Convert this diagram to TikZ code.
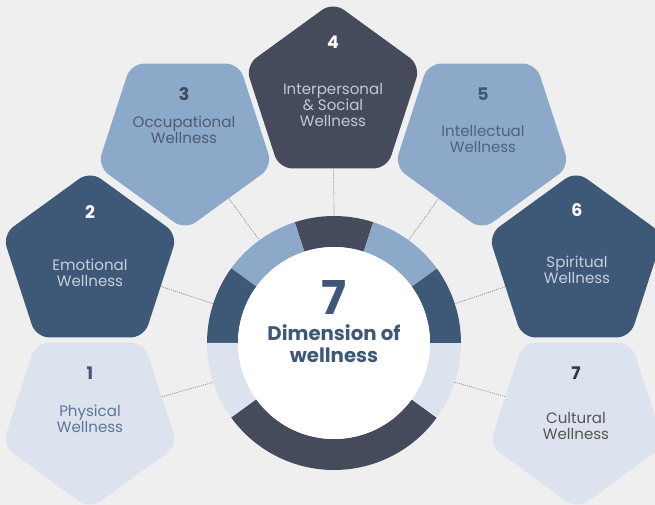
\documentclass[tikz,border=0pt]{standalone}
\usepackage{fontspec}
\setmainfont{Poppins}
\usetikzlibrary{shapes.geometric}

\definecolor{bgray}{HTML}{EFEFEF}
\definecolor{slate}{HTML}{464B5C}
\definecolor{navy}{HTML}{3E5877}
\definecolor{sky}{HTML}{8DA9CA}
\definecolor{pale}{HTML}{DCE3EE}
\definecolor{mist}{HTML}{C6D0DD}
\definecolor{ash}{HTML}{C4C8D1}
\definecolor{ink}{HTML}{3F4A5E}
\definecolor{inksoft}{HTML}{4E5B70}
\definecolor{steel}{HTML}{4A6383}
\definecolor{dusk}{HTML}{5D7696}
\definecolor{coal}{HTML}{363636}
\definecolor{smoke}{HTML}{555555}
\definecolor{wire}{HTML}{8A8A8A}

\tikzset{
  penta/.style={regular polygon, regular polygon sides=5, minimum size=138pt,
    inner sep=0pt, rounded corners=10pt},
  flip/.style={shape border rotate=180},
  num/.style={font=\bfseries\fontsize{13}{15}\selectfont},
  lbl/.style={align=center, font=\fontsize{11.3}{12.2}\selectfont},
  link/.style={wire, line width=0.5pt, dash pattern=on 0.8pt off 0.8pt}
}

\begin{document}
\begin{tikzpicture}[x=0.75pt,y=0.75pt]
  \clip (0,0) rectangle (655,505);
  \fill[bgray] (0,0) rectangle (655,505);
  \coordinate (ctr) at (334,162);

  % ring of the hub, one piece per dimension
  \fill[slate] ([shift={(72:127)}]ctr) arc (72:108:127) -- ([shift={(108:96)}]ctr) arc (108:72:96) -- cycle;
  \fill[sky] ([shift={(108:127)}]ctr) arc (108:144:127) -- ([shift={(144:96)}]ctr) arc (144:108:96) -- cycle;
  \fill[navy] ([shift={(144:127)}]ctr) arc (144:180:127) -- ([shift={(180:96)}]ctr) arc (180:144:96) -- cycle;
  \fill[pale] ([shift={(180:127)}]ctr) arc (180:216:127) -- ([shift={(216:96)}]ctr) arc (216:180:96) -- cycle;
  \fill[slate] ([shift={(216:127)}]ctr) arc (216:324:127) -- ([shift={(324:96)}]ctr) arc (324:216:96) -- cycle;
  \fill[pale] ([shift={(324:127)}]ctr) arc (324:360:127) -- ([shift={(360:96)}]ctr) arc (360:324:96) -- cycle;
  \fill[navy] ([shift={(0:127)}]ctr) arc (0:36:127) -- ([shift={(36:96)}]ctr) arc (36:0:96) -- cycle;
  \fill[sky] ([shift={(36:127)}]ctr) arc (36:72:127) -- ([shift={(72:96)}]ctr) arc (72:36:96) -- cycle;
  \node[circle, fill=white, minimum size=144pt, inner sep=0pt] (hub) at (ctr) {};
  \node[navy, inner sep=0pt, anchor=base, text height=25pt, text depth=0pt,
    font=\bfseries\fontsize{35}{35}\selectfont] (big) at (334,190) {7};
  \node[navy, inner sep=0pt, align=center, font=\bfseries\fontsize{14.8}{16.5}\selectfont] (title) at (334,161) {Dimension of\\wellness};

  \coordinate (r1) at ([shift={(198:127)}]ctr);
  \coordinate (r2) at ([shift={(162:127)}]ctr);
  \coordinate (r3) at ([shift={(126:127)}]ctr);
  \coordinate (r4) at ([shift={(90:127)}]ctr);
  \coordinate (r5) at ([shift={(54:127)}]ctr);
  \coordinate (r6) at ([shift={(18:127)}]ctr);
  \coordinate (r7) at ([shift={(-18:127)}]ctr);

  % the seven pentagons
  \node[penta, flip, fill=pale] (p1) at (90,88) {};
  \node[penta, fill=navy] (p2) at (90,242) {};
  \node[penta, flip, fill=sky] (p3) at (185,367) {};
  \node[penta, fill=slate] (p4) at (333,411) {};
  \node[penta, flip, fill=sky] (p5) at (482,367) {};
  \node[penta, fill=navy] (p6) at (576,242) {};
  \node[penta, flip, fill=pale] (p7) at (577,88) {};

  \node[num, navy] (n1) at (90,132) {1};
  \node[lbl, dusk] (l1) at (90,86) {Physical\\Wellness};
  \node[num, white] (n2) at (90,293) {2};
  \node[lbl, mist] (l2) at (90,232) {Emotional\\Wellness};
  \node[num, ink] (n3) at (184,411) {3};
  \node[lbl, inksoft] (l3) at (184,375) {Occupational\\Wellness};
  \node[num, white] (n4) at (333,463) {4};
  \node[lbl, ash] (l4) at (333,400) {Interpersonal\\\& Social\\Wellness};
  \node[num, navy] (n5) at (483,411) {5};
  \node[lbl, steel] (l5) at (483,366) {Intellectual\\Wellness};
  \node[num, white] (n6) at (577,295) {6};
  \node[lbl, mist] (l6) at (577,235) {Spiritual\\Wellness};
  \node[num, coal] (n7) at (576,132) {7};
  \node[lbl, smoke] (l7) at (576,79) {Cultural\\Wellness};

  \begin{scope}[link]
    \draw (p1) to (r1);
    \draw (p2) to (r2);
    \draw (p3) to (r3);
    \draw (p4) to (r4);
    \draw (p5) to (r5);
    \draw (p6) to (r6);
    \draw (p7) to (r7);
  \end{scope}
\end{tikzpicture}
\end{document}
